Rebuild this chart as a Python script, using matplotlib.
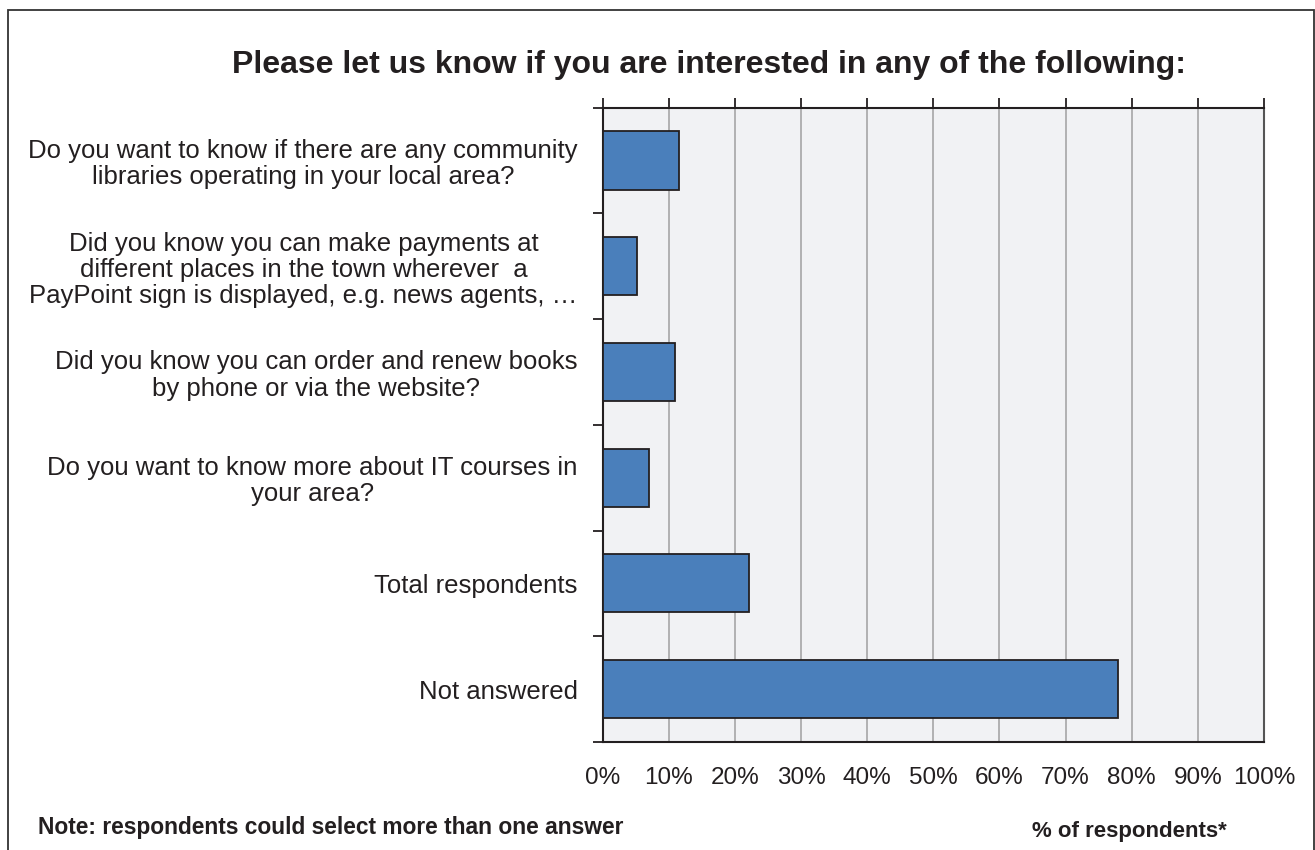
import matplotlib
matplotlib.use("Agg")
import matplotlib.pyplot as plt
from matplotlib.patches import Rectangle
from matplotlib.ticker import FixedLocator, PercentFormatter
import numpy as np

plt.rcParams['font.family'] = ['Liberation Sans', 'DejaVu Sans']

# survey answers, top to bottom
questions = [
    "Do you want to know if there are any community\nlibraries operating in your local area?",
    "Did you know you can make payments at\ndifferent places in the town wherever  a\nPayPoint sign is displayed, e.g. news agents, \u2026",
    "Did you know you can order and renew books\nby phone or via the website?",
    "Do you want to know more about IT courses in\nyour area?",
    "Total respondents",
    "Not answered",
]
pct = [11.5, 5.2, 10.9, 7.0, 22.1, 77.9]
xticks = list(range(0, 101, 10))

fig = plt.figure(figsize=(13.15, 8.5), dpi=100)
ax = fig.add_axes([0.4582, 0.1271, 0.5030, 0.7462])
ax.set_facecolor('#f1f2f4')

ypos = np.arange(len(questions))
ax.barh(ypos, pct, height=0.55, color='#4a7fbb', edgecolor='#231f20',
        linewidth=1.3, zorder=3)

ax.set_xlim(0, 100)
ax.set_ylim(len(questions) - 0.5, -0.5)
ax.set_xticks(xticks)
ax.xaxis.set_major_formatter(PercentFormatter(decimals=0))
ax.grid(axis='x', color='#a6a6a6', linewidth=1.2, zorder=1)

# category labels centred on bars, ticks between categories
ax.set_yticks(ypos)
ax.set_yticklabels(questions, fontsize=18.5, multialignment='center',
                   linespacing=1.12, color='#231f20')
ax.yaxis.set_minor_locator(FixedLocator(np.arange(-0.5, len(questions), 1)))
ax.tick_params(axis='y', which='major', length=0, pad=18)
ax.tick_params(axis='y', which='minor', length=7, width=1.3, color='#231f20')
ax.tick_params(axis='x', top=True, bottom=False, labeltop=False,
               labelbottom=True, length=7, width=1.3, color='#231f20',
               labelsize=17.5, labelcolor='#231f20', pad=11)

for s in ax.spines.values():
    s.set_color('#231f20')
    s.set_linewidth(1.5)
ax.spines['right'].set_color('#555555')

fig.text(0.539, 0.923, "Please let us know if you are interested in any of the following:",
         ha='center', va='center', fontsize=23, fontweight='bold', color='#231f20')
fig.text(0.029, 0.026, "Note: respondents could select more than one answer",
         ha='left', va='center', fontsize=16.4, fontweight='bold', color='#231f20')
fig.text(0.859, 0.022, "% of respondents*",
         ha='center', va='center', fontsize=16, fontweight='bold', color='#231f20')

# outer frame
fig.patches.append(Rectangle((8 / 1315, -0.05), 1306 / 1315, 1.05 - 10 / 850,
                             transform=fig.transFigure, fill=False,
                             edgecolor='#333333', linewidth=1.3))

fig.savefig('out.png', dpi=100)
